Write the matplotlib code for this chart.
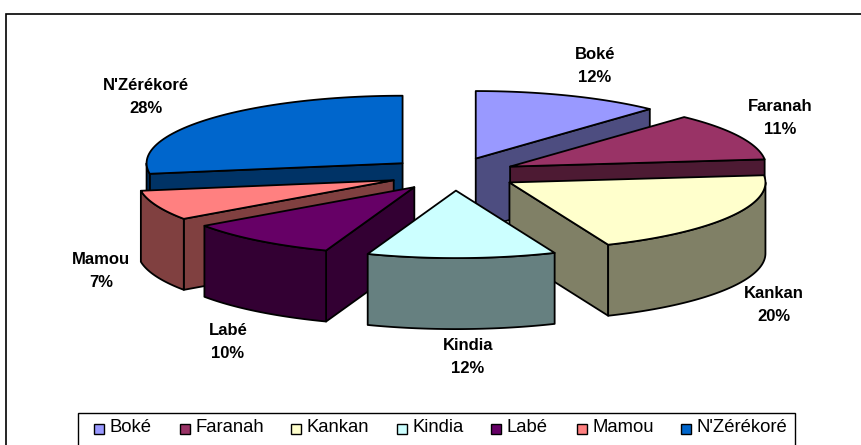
import numpy as np
import matplotlib
matplotlib.use("Agg")
import matplotlib.pyplot as plt
from matplotlib.patches import Polygon, Rectangle

plt.rcParams['font.family'] = ['Liberation Sans', 'DejaVu Sans']

# data
regions = ["Boké", "Faranah", "Kankan", "Kindia", "Labé", "Mamou", "N'Zérékoré"]
shares = [11.9, 11.4, 20.4, 11.9, 9.7, 7.2, 27.5]
colors = ["#9999FF", "#993366", "#FFFFCC", "#CCFFFF", "#660066", "#FF8080", "#0066CC"]

# label centres, in pixels
label_pos = [(595, 66), (780, 118), (774, 305), (468, 357), (228, 342), (101, 271), (146, 97)]

# look of the 3d pie, in pixels
W, H = 862, 445
cx, cy = 452, 174
rx, ry = 256, 67.5
ex, ey = 65, 16.6
depth = 71
draw_order = [0, 6, 1, 5, 2, 4, 3]
nudge_x = [0, 0, 1.5, 2.5, 2, 2, 0]


def point(c, a):
    return (c[0] + rx * np.sin(a), c[1] - ry * np.cos(a))


def arc(c, a0, a1):
    t = np.linspace(a0, a1, 60)
    return np.column_stack([c[0] + rx * np.sin(t), c[1] - ry * np.cos(t)])


def face(pts, col, z):
    ax.add_patch(Polygon(pts, closed=True, fc=col, ec="black", lw=1.3, joinstyle="round", zorder=z))


def dark(col):
    return tuple(v / 2 for v in matplotlib.colors.to_rgb(col))


fig = plt.figure(figsize=(W / 100, H / 100), dpi=100)
ax = fig.add_axes([0, 0, 1, 1])
ax.set_xlim(0, W)
ax.set_ylim(H, 0)
ax.axis("off")

# chart frame, runs off the picture on the right and at the bottom
ax.add_patch(Rectangle((6.5, 13.5), 900, 440, fc="white", ec="black", lw=1.2, zorder=0))

edges = np.radians(np.concatenate([[0], np.cumsum(shares)]) * 3.6)
for n, i in enumerate(draw_order):
    a0, a1 = edges[i], edges[i + 1]
    mid = (a0 + a1) / 2
    c = (cx + ex * np.sin(mid) + nudge_x[i], cy - ey * np.cos(mid))
    z = 1 + n
    side = dark(colors[i])
    # cut faces that turn towards the viewer
    for a, show in [(a0, np.sin(a0) < 0), (a1, np.sin(a1) > 0)]:
        if show:
            p = point(c, a)
            face([c, p, (p[0], p[1] + depth), (c[0], c[1] + depth)], side, z)
    # outer rim, front half only
    r0, r1 = max(a0, np.pi / 2), min(a1, 3 * np.pi / 2)
    if r1 > r0:
        top = arc(c, r0, r1)
        face(np.vstack([top, (top + [0, depth])[::-1]]), side, z)
    # top
    face(np.vstack([[c], arc(c, a0, a1)]), colors[i], z)

# labels
for name, v, (x, y) in zip(regions, shares, label_pos):
    ax.text(x, y, f"{name}\n{v:.0f}%", ha="center", va="center", fontsize=12, fontweight="bold",
            linespacing=1.65, zorder=20)

# legend
ax.add_patch(Rectangle((78.5, 412.5), 717, 40, fc="white", ec="black", lw=1, zorder=20))
leg_x = [94, 180, 291, 397, 491, 577, 681]
for name, col, x in zip(regions, colors, leg_x):
    ax.add_patch(Rectangle((x + 0.5, 423.5), 10, 10, fc=col, ec="black", lw=1, zorder=21))
    ax.text(x + 16, 427, name, ha="left", va="center", fontsize=13.3, zorder=21)

fig.savefig("out.png", dpi=100)
